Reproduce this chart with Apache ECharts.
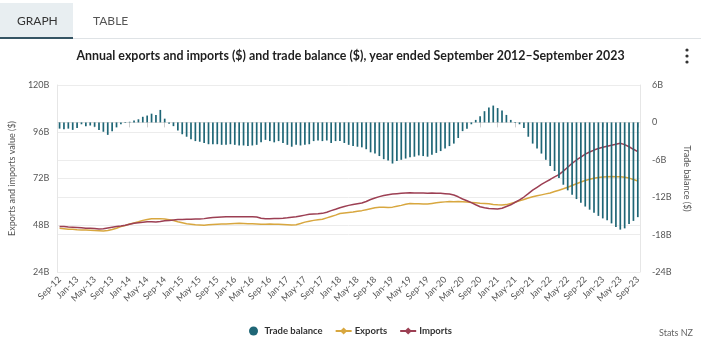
<!DOCTYPE html>
<html>
<head>
<meta charset="utf-8">
<script src="https://cdn.jsdelivr.net/npm/echarts@6/dist/echarts.min.js"></script>
<style>
html,body{margin:0;padding:0;background:#fff;}
#chart{width:701px;height:353px;}
</style>
</head>
<body>
<div id="chart"></div>
<script>
// Month labels Sep-12 .. Sep-23
var monthNames = ['Jan','Feb','Mar','Apr','May','Jun','Jul','Aug','Sep','Oct','Nov','Dec'];
var categories = [];
for (var y = 2012, m = 8; y < 2023 || (y === 2023 && m <= 8); ) {
  categories.push(monthNames[m] + '-' + String(y).slice(2));
  m++; if (m > 11) { m = 0; y++; }
}

// Trade balance ($B), right axis
var tradeBalance = [
  -1.0, -1.1, -1.0, -1.2, -0.9, -0.3, -0.6, -0.5, -0.7, -1.2, -1.5, -2.0,
  -1.4, -0.8, -0.3, -0.1, 0.1, 0.3, 0.5, 0.9, 1.1, 1.4, 1.2, 2.0,
  0.6, -0.2, -0.6, -1.3, -1.9, -2.3, -2.7, -3.0, -3.1, -3.3, -3.5, -3.5,
  -3.5, -3.6, -3.6, -3.5, -3.6, -3.7, -3.7, -3.8, -3.7, -3.6, -3.2, -2.8,
  -3.0, -3.2, -3.0, -3.3, -3.6, -3.9, -3.6, -3.7, -3.6, -3.5, -3.0, -2.9,
  -3.0, -2.9, -3.3, -3.0, -3.0, -3.3, -3.6, -3.8, -3.9, -4.0, -4.3, -4.8,
  -5.0, -5.4, -5.9, -6.1, -6.6, -6.2, -6.0, -5.8, -5.6, -5.5, -5.3, -5.4,
  -5.5, -5.2, -4.9, -4.6, -4.2, -3.8, -3.4, -2.5, -1.4, -1.0, -0.3, 0.4,
  1.0, 1.8, 2.4, 2.7, 2.3, 1.9, 1.2, 0.4, -0.1, -0.3, -0.9, -2.3,
  -3.4, -4.2, -5.0, -6.0, -7.0, -7.8, -8.9, -10.0, -10.9, -11.6, -12.3, -12.9,
  -13.5, -14.0, -14.5, -15.0, -15.4, -15.7, -16.2, -16.8, -17.2, -17.0, -16.3, -15.8, -15.2
];

// Exports ($B), left axis
var exportsVal = [
  46.4, 46.2, 46.0, 45.9, 45.7, 45.6, 45.5, 45.4, 45.3, 45.2, 45.1, 45.3,
  45.8, 46.5, 47.3, 47.9, 48.6, 49.2, 49.8, 50.5, 50.9, 51.3, 51.4, 51.4,
  51.2, 50.8, 50.4, 49.8, 49.3, 48.8, 48.5, 48.2, 48.1, 48.0, 48.2, 48.4,
  48.5, 48.6, 48.7, 48.8, 48.9, 49.0, 48.9, 48.8, 48.8, 48.7, 48.5, 48.5,
  48.6, 48.5, 48.5, 48.4, 48.3, 48.1, 48.3, 48.9, 49.6, 50.1, 50.5, 50.8,
  51.1, 51.8, 52.5, 53.2, 54.0, 54.3, 54.6, 54.8, 55.2, 55.5, 56.0, 56.5,
  57.0, 57.2, 57.2, 57.1, 57.3, 57.8, 58.2, 58.8, 59.2, 59.1, 59.0, 58.9,
  58.9, 59.2, 59.5, 59.8, 60.0, 60.2, 60.1, 60.2, 60.1, 59.9, 59.7, 59.5,
  59.3, 59.2, 59.0, 58.7, 58.5, 58.4, 58.6, 59.2, 59.8, 60.5, 61.2, 62.0,
  62.6, 63.1, 63.6, 64.1, 64.6, 65.3, 66.0, 66.7, 67.5, 68.4, 69.3, 70.2,
  71.0, 71.6, 72.1, 72.5, 72.8, 72.9, 73.0, 72.9, 72.9, 72.6, 72.2, 71.5, 70.7
];

// Imports ($B), left axis
var importsVal = [
  47.4, 47.3, 47.1, 47.0, 46.9, 46.7, 46.5, 46.4, 46.3, 46.1, 46.2, 46.6,
  47.0, 47.3, 47.6, 48.0, 48.5, 49.0, 49.3, 49.6, 49.8, 49.8, 49.7, 49.9,
  50.3, 50.5, 50.7, 50.9, 51.0, 51.1, 51.1, 51.2, 51.2, 51.4, 51.7, 52.0,
  52.1, 52.2, 52.3, 52.3, 52.4, 52.4, 52.3, 52.4, 52.3, 52.2, 51.6, 51.3,
  51.4, 51.5, 51.5, 51.6, 51.8, 52.1, 52.4, 52.8, 53.2, 53.6, 53.8, 53.9,
  54.1, 54.7, 55.5, 56.2, 57.0, 57.6, 58.2, 58.6, 59.0, 59.4, 60.2, 61.2,
  62.0, 62.7, 63.3, 63.7, 64.0, 64.2, 64.4, 64.6, 64.7, 64.6, 64.5, 64.5,
  64.4, 64.5, 64.4, 64.4, 64.2, 64.0, 63.5, 62.6, 61.5, 60.6, 59.6, 58.5,
  57.5, 57.0, 56.6, 56.5, 56.4, 56.7, 57.6, 58.5, 59.8, 61.0, 62.5, 64.2,
  66.0, 67.5, 69.0, 70.3, 71.5, 72.8, 74.0, 75.8, 77.8, 79.8, 81.5, 83.0,
  84.5, 85.6, 86.6, 87.4, 88.0, 88.6, 89.1, 89.6, 90.1, 89.4, 88.3, 87.0, 85.8
];

var leftTicks = {min: 24, max: 120, interval: 24};
var rightTicks = {min: -24, max: 6, interval: 6};

var FONT = 'Lato';
var chart = echarts.init(document.getElementById('chart'), null, {renderer: 'canvas'});
chart.setOption({
  animation: false,
  textStyle: {fontFamily: FONT},
  title: {
    text: 'Annual exports and imports ($) and trade balance ($), year ended September 2012\u2013September 2023',
    left: 'center', top: 45,
    textStyle: {fontSize: 12.4, fontWeight: 'bold', color: '#1e1e1e', fontFamily: FONT}
  },
  graphic: [
    {type: 'rect', shape: {x: 0, y: 3, width: 73, height: 35}, style: {fill: '#e8eef1'}},
    {type: 'rect', shape: {x: 0, y: 37, width: 73, height: 2}, style: {fill: '#355463'}},
    {type: 'rect', shape: {x: 73, y: 38, width: 628, height: 1}, style: {fill: '#dfe3e6'}},
    {type: 'text', left: 17, top: 15, style: {text: 'GRAPH', fill: '#333', font: '12px ' + FONT}},
    {type: 'text', left: 93, top: 15, style: {text: 'TABLE', fill: '#555', font: '12px ' + FONT}},
    {type: 'circle', shape: {cx: 687, cy: 50, r: 1.6}, style: {fill: '#333'}},
    {type: 'circle', shape: {cx: 687, cy: 56, r: 1.6}, style: {fill: '#333'}},
    {type: 'circle', shape: {cx: 687, cy: 62, r: 1.6}, style: {fill: '#333'}},
    {type: 'text', left: 659, top: 329, style: {text: 'Stats NZ', fill: '#666', font: '9px ' + FONT}}
  ],
  legend: {
    bottom: 12, left: 'center',
    itemGap: 12, itemWidth: 16, itemHeight: 9,
    textStyle: {fontSize: 9.5, fontWeight: 'bold', color: '#333', padding: [0, 0, 0, -2]},
    data: [
      {name: 'Trade balance', icon: 'circle'},
      {name: 'Exports'},
      {name: 'Imports'}
    ]
  },
  grid: {left: 55, right: 61, top: 85, bottom: 81},
  xAxis: {
    type: 'category',
    data: categories,
    boundaryGap: true,
    axisLine: {show: true, lineStyle: {color: '#e0e0e0'}},
    axisTick: {show: true, interval: 3, alignWithLabel: true, length: 5, lineStyle: {color: '#ccc'}},
    axisLabel: {interval: 3, rotate: 45, fontSize: 9, color: '#555', margin: 6}
  },
  yAxis: [
    {
      type: 'value', position: 'left',
      min: leftTicks.min, max: leftTicks.max, interval: leftTicks.interval,
      name: 'Exports and imports value ($)', nameLocation: 'middle', nameGap: 31,
      nameTextStyle: {fontSize: 9, color: '#555'},
      axisLine: {show: true, lineStyle: {color: '#e6e6e6'}},
      axisTick: {show: false},
      axisLabel: {fontSize: 9, color: '#555', formatter: function (v) { return v + 'B'; }},
      splitLine: {lineStyle: {color: '#ececec'}}
    },
    {
      type: 'value', position: 'right',
      min: rightTicks.min, max: rightTicks.max, interval: rightTicks.interval,
      name: 'Trade balance ($)', nameLocation: 'middle', nameGap: 36, nameRotate: -90,
      nameTextStyle: {fontSize: 9, color: '#555'},
      axisLine: {show: true, lineStyle: {color: '#e6e6e6'}},
      axisTick: {show: false},
      axisLabel: {fontSize: 9, color: '#555', margin: 12, formatter: function (v) { return v === 0 ? '0' : v + 'B'; }},
      splitLine: {lineStyle: {color: '#ececec'}}
    }
  ],
  series: [
    {
      name: 'Trade balance', type: 'bar', yAxisIndex: 1, z: 5,
      data: tradeBalance, barWidth: 1.7,
      itemStyle: {color: '#1f6676'}
    },
    {
      name: 'Exports', type: 'line', yAxisIndex: 0, z: 2,
      data: exportsVal, symbol: 'diamond', symbolSize: 7, showSymbol: false,
      lineStyle: {width: 1.5, color: '#d8a73f'}, itemStyle: {color: '#d8a73f'}
    },
    {
      name: 'Imports', type: 'line', yAxisIndex: 0, z: 2,
      data: importsVal, symbol: 'diamond', symbolSize: 7, showSymbol: false,
      lineStyle: {width: 1.5, color: '#9c3f53'}, itemStyle: {color: '#9c3f53'}
    }
  ]
});
</script>
</body>
</html>
